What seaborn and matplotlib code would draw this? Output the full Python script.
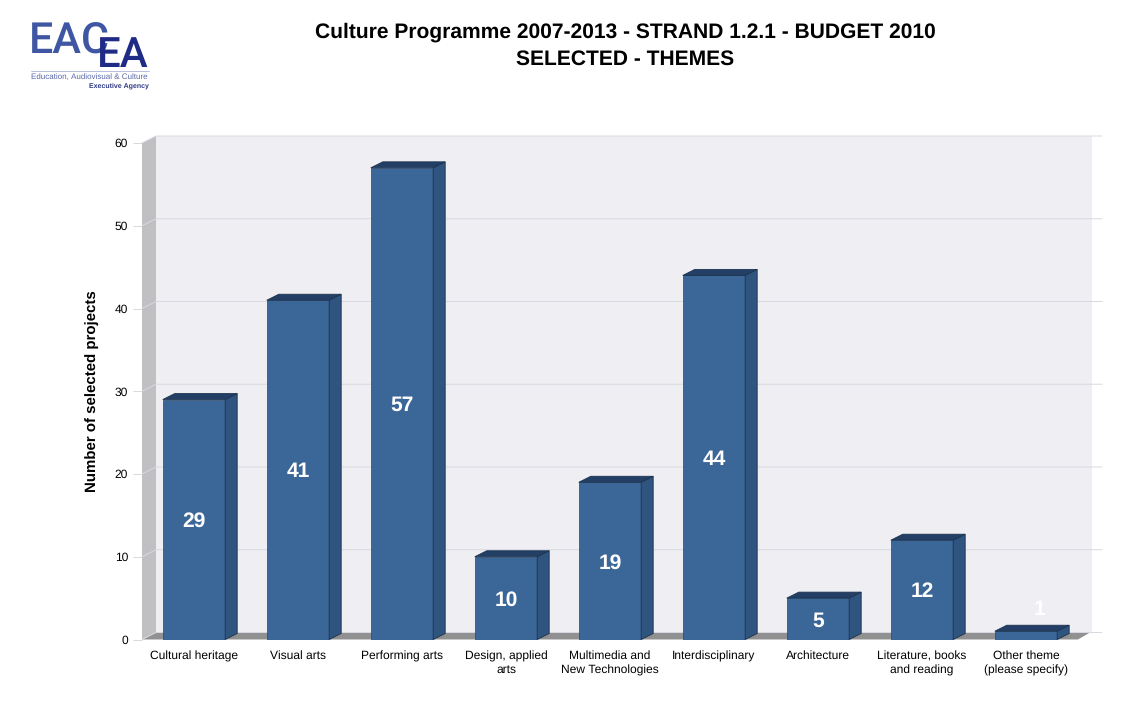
"""Culture Programme strand 1.2.1 selected projects by theme, pseudo-3D bars."""

import matplotlib

matplotlib.use("Agg")

import matplotlib.pyplot as plt
import pandas as pd
import seaborn as sns
from matplotlib.lines import Line2D
from matplotlib.patches import Polygon

THEMES = [
    "Cultural heritage",
    "Visual arts",
    "Performing arts",
    "Design, applied\narts",
    "Multimedia and\nNew Technologies",
    "Interdisciplinary",
    "Architecture",
    "Literature, books\nand reading",
    "Other theme\n(please specify)",
]
PROJECTS = [29, 41, 57, 10, 19, 44, 5, 12, 1]
Y_TICKS = [0, 10, 20, 30, 40, 50, 60]

FIG_W, FIG_H = 1144, 712
AX_LEFT, AX_RIGHT = 142, 1078
AX_TOP, AX_BOTTOM = 143, 639.5

sns.set_theme(style="white")
plt.rcParams["font.family"] = ["Liberation Sans", "DejaVu Sans"]
plt.rcParams["text.hinting"] = "no_hinting"
plt.rcParams["text.hinting_factor"] = 1

PX_X = len(THEMES) / (AX_RIGHT - AX_LEFT)
PX_Y = 60 / (AX_BOTTOM - AX_TOP)
WALL_DX, WALL_DY = 14 * PX_X, 7 * PX_Y
BAR_DX, BAR_DY = 12 * PX_X, 6 * PX_Y


def draw_box(ax, xy, color, **kwargs):
    ax.add_patch(Polygon(xy, closed=True, facecolor=color, clip_on=False, **kwargs))


def draw_walls(ax):
    x0, x1 = -0.5, len(THEMES) - 0.5
    top = Y_TICKS[-1]
    draw_box(ax, [(x0 + WALL_DX, WALL_DY), (x1 + WALL_DX, WALL_DY),
                  (x1 + WALL_DX, top + WALL_DY), (x0 + WALL_DX, top + WALL_DY)],
             "#eeeef3", edgecolor="none", zorder=0.5)
    draw_box(ax, [(x0, 0), (x0 + WALL_DX, WALL_DY),
                  (x0 + WALL_DX, top + WALL_DY), (x0, top)],
             "#c0c0c2", edgecolor="none", zorder=0.6)
    draw_box(ax, [(x0, 0), (x1, 0), (x1 + 12 * PX_X, WALL_DY), (x0 + WALL_DX, WALL_DY)],
             "#919191", edgecolor="none", zorder=0.6)
    for tick in Y_TICKS:
        ax.plot([x0, x0 + WALL_DX, x1 + 24 * PX_X],
                [tick, tick + WALL_DY, tick + WALL_DY],
                color="#d8d8e0", lw=0.7, zorder=0.7, clip_on=False)


def draw_bar_depth(ax):
    for patch, value in zip(ax.patches, PROJECTS):
        left, right = patch.get_x(), patch.get_x() + patch.get_width()
        draw_box(ax, [(right, 0), (right + BAR_DX, BAR_DY),
                      (right + BAR_DX, value + BAR_DY), (right, value)],
                 "#2f5480", edgecolor="#1d3350", lw=0.6, zorder=3)
        draw_box(ax, [(left, value), (right, value),
                      (right + BAR_DX, value + BAR_DY), (left + BAR_DX, value + BAR_DY)],
                 "#233f66", edgecolor="#1d3350", lw=0.6, zorder=3)


def draw_logo(fig):
    fig.text(29 / FIG_W, 1 - 54 / FIG_H, "EAC", color="#3f56a3", fontsize=31,
             family="Roboto", fontweight="medium", va="baseline", ha="left")
    fig.text(149 / FIG_W, 1 - 67 / FIG_H, "EA", color="#1f2b85", fontsize=30,
             family="Roboto", fontweight="medium", va="baseline", ha="right")
    fig.add_artist(Line2D([31 / FIG_W, 149 / FIG_W], [1 - 71 / FIG_H] * 2,
                          color="#9aa3cc", lw=0.5))
    fig.text(31 / FIG_W, 1 - 79 / FIG_H, "Education, Audiovisual & Culture",
             color="#5a69a8", fontsize=5.8, va="baseline", ha="left")
    fig.text(149 / FIG_W, 1 - 88 / FIG_H, "Executive Agency", color="#2f3a86",
             fontsize=5.3, fontweight="bold", va="baseline", ha="right")


def main():
    df = pd.DataFrame({"theme": THEMES, "projects": PROJECTS})
    fig = plt.figure(figsize=(FIG_W / 100, FIG_H / 100), dpi=100, facecolor="white")
    ax = fig.add_axes([AX_LEFT / FIG_W, 1 - AX_BOTTOM / FIG_H,
                       (AX_RIGHT - AX_LEFT) / FIG_W, (AX_BOTTOM - AX_TOP) / FIG_H])
    ax.patch.set_visible(False)

    sns.barplot(data=df, x="theme", y="projects", color="#3b6698", saturation=1,
                width=0.6, edgecolor="#2a4565", linewidth=0.5, zorder=3, ax=ax)
    ax.set_xlim(-0.5, len(THEMES) - 0.5)
    ax.set_ylim(0, 60)
    draw_bar_depth(ax)
    draw_walls(ax)

    for index, value in enumerate(PROJECTS):
        # the smallest bar has its label floating up and to the right
        label_x = index if value >= 5 else index + 14 * PX_X
        label_y = value / 2 if value >= 5 else value + 2.9
        ax.text(label_x, label_y, str(value), color="white", fontsize=14.8,
                fontweight="bold", ha="center", va="center_baseline", zorder=4)

    sns.despine(ax=ax, left=True, bottom=True)
    ax.set_yticks(Y_TICKS)
    ax.tick_params(axis="y", length=6.5, width=0.7, color="#d8d8e0", pad=3.5,
                   labelsize=8.4, labelcolor="black", left=True)
    ax.tick_params(axis="x", length=0, pad=8, labelsize=8.4, labelcolor="black")
    for label in ax.get_xticklabels():
        label.set_linespacing(1.3)
    ax.set_xlabel("")
    ax.set_ylabel("Number of selected projects", fontsize=11, fontweight="bold",
                  color="black", labelpad=11)

    fig.text(625.5 / FIG_W, 1 - 46 / FIG_H,
             "Culture Programme 2007-2013 - STRAND 1.2.1 - BUDGET 2010\nSELECTED - THEMES",
             ha="center", va="center", fontsize=15.25, fontweight="bold",
             color="black", linespacing=1.5)
    draw_logo(fig)

    fig.savefig("out.png", dpi=100)
    plt.close(fig)


if __name__ == "__main__":
    main()
